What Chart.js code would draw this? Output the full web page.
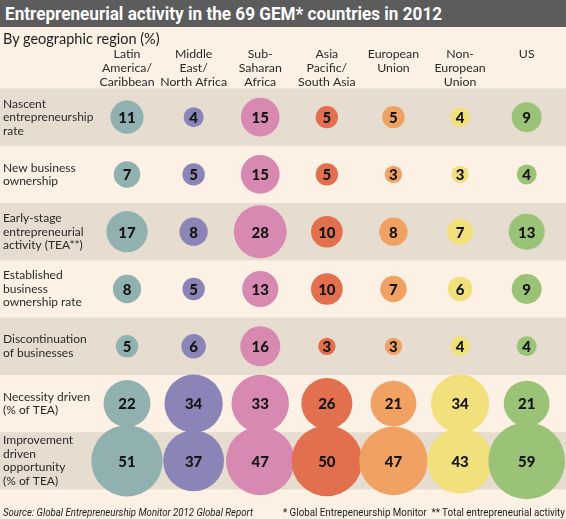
<!DOCTYPE html>
<html>
<head>
<meta charset="utf-8">
<script src="https://cdn.jsdelivr.net/npm/chart.js@4.4.1/dist/chart.umd.min.js"></script>
<style>
  html, body { margin: 0; padding: 0; background: #fcf1e4; }
  #wrap { position: relative; width: 566px; height: 519px; overflow: hidden; }
  #chartBox { position: absolute; left: 0; top: 0; width: 566px; height: 519px; }
  .titlebar {
    position: absolute; left: 0; top: 0; width: 566px; height: 27px;
    background: #5c5c5c;
  }
  .titlebar span {
    position: absolute; left: 5px; top: 0; color: #fff; white-space: nowrap;
    font: bold 18px Roboto, sans-serif; line-height: 27px;
    transform-origin: left center;
  }
  .subtitle {
    position: absolute; left: 3px; top: 30px;
    font: 14.5px Lato, sans-serif; color: #222; white-space: nowrap;
  }
  .foot {
    position: absolute; top: 506px; color: #222; white-space: nowrap;
    font: 11px Roboto, sans-serif; line-height: 14px;
  }
</style>
</head>
<body>
<div id="wrap">
  <div id="chartBox"><canvas id="gemChart"></canvas></div>
  <div class="titlebar"><span id="title">Entrepreneurial activity in the 69 GEM* countries in 2012</span></div>
  <div class="subtitle">By geographic region (%)</div>
  <div class="foot" id="source" style="left:3px;font-style:italic;transform-origin:left center">Source: Global Entrepreneurship Monitor 2012 Global Report</div>
  <div class="foot" id="notes" style="right:1px;transform-origin:right center">* Global Entrepeneurship Monitor&nbsp;&nbsp;** Total entrepreneurial activity</div>
</div>
<script>
  // Column categories (line breaks as in the header)
  const regions = [
    "Latin\nAmerica/\nCaribbean",
    "Middle\nEast/\nNorth Africa",
    "Sub-\nSaharan\nAfrica",
    "Asia\nPacific/\nSouth Asia",
    "European\nUnion",
    "Non-\nEuropean\nUnion",
    "US",
  ];

  // Row categories
  const measures = [
    "Nascent\nentrepreneurship\nrate",
    "New business\nownership",
    "Early-stage\nentrepreneurial\nactivity (TEA**)",
    "Established\nbusiness\nownership rate",
    "Discontinuation\nof businesses",
    "Necessity driven\n(% of TEA)",
    "Improvement\ndriven\nopportunity\n(% of TEA)",
  ];

  // Values per region, in row order (%)
  const latinAmerica  = [11, 7, 17, 8, 5, 22, 51];
  const middleEast    = [4, 5, 8, 5, 6, 34, 37];
  const subSaharan    = [15, 15, 28, 13, 16, 33, 47];
  const asiaPacific   = [5, 5, 10, 10, 3, 26, 50];
  const europeanUnion = [5, 3, 8, 7, 3, 21, 47];
  const nonEuropean   = [4, 3, 7, 6, 4, 34, 43];
  const unitedStates  = [9, 4, 13, 9, 4, 21, 59];

  const seriesByRegion = [latinAmerica, middleEast, subSaharan, asiaPacific, europeanUnion, nonEuropean, unitedStates];
  const regionColors = ["#91b1b0", "#8b85b7", "#d889b1", "#e2704f", "#f1a263", "#f1e07c", "#9bc377"];

  const BUBBLE_K = 5; // radius = k * sqrt(value), so area follows the value

  // squeeze the condensed-looking texts to the width they take in the print
  function fitWidth(id, w) {
    const el = document.getElementById(id);
    el.style.transform = "scaleX(" + (w / el.scrollWidth) + ")";
  }
  fitWidth("title", 437);
  fitWidth("source", 250);
  fitWidth("notes", 282);

  // shaded bands behind every other row (drawn before the axes)
  const rowBands = {
    id: "rowBands",
    beforeDraw(chart) {
      const y = chart.scales.y;
      const ctx = chart.ctx;
      const h = Math.abs(y.getPixelForValue(1) - y.getPixelForValue(0));
      ctx.save();
      ctx.fillStyle = "#e6dcd0";
      measures.forEach((m, j) => {
        if (j % 2 === 0) {
          const c = y.getPixelForValue(j);
          ctx.fillRect(0, c - h / 2, chart.width, h);
        }
      });
      ctx.restore();
    },
  };

  // value printed in the middle of each bubble
  const bubbleValues = {
    id: "bubbleValues",
    afterDatasetsDraw(chart) {
      const ctx = chart.ctx;
      ctx.save();
      ctx.font = "900 15px Lato, sans-serif";
      ctx.fillStyle = "#141414";
      ctx.textAlign = "center";
      ctx.textBaseline = "middle";
      chart.data.datasets.forEach((ds, i) => {
        chart.getDatasetMeta(i).data.forEach((el, k) => {
          ctx.fillText(String(ds.data[k].v), el.x, el.y + 1);
        });
      });
      ctx.restore();
    },
  };

  new Chart(document.getElementById("gemChart"), {
    type: "bubble",
    data: {
      datasets: seriesByRegion.map((vals, i) => ({
        label: regions[i].replace(/\n/g, " "),
        data: vals.map((v, j) => ({ x: regions[i], y: measures[j], v: v })),
        backgroundColor: regionColors[i],
        borderWidth: 0,
        radius: (c) => BUBBLE_K * Math.sqrt(c.raw.v),
        clip: false,
        order: regions.length - i,
      })),
    },
    options: {
      responsive: true,
      maintainAspectRatio: false,
      animation: false,
      events: [],
      layout: { autoPadding: false, padding: { left: 3, right: 6, top: 38.5, bottom: 29.5 } },
      plugins: {
        legend: { display: false },
        tooltip: { enabled: false },
      },
      scales: {
        x: {
          type: "category",
          position: "top",
          labels: regions,
          offset: true,
          grid: { display: false },
          border: { display: false },
          afterFit: (s) => { s.height = 50; s.paddingLeft = 0; s.paddingRight = 0; },
          ticks: {
            autoSkip: false,
            maxRotation: 0,
            minRotation: 0,
            crossAlign: "far",
            padding: -8.5,
            color: "#2a2a2a",
            font: { family: "Lato", size: 12.3, lineHeight: "14px" },
            callback(v) { return this.getLabelForValue(v).split("\n"); },
          },
        },
        y: {
          type: "category",
          labels: measures,
          offset: true,
          grid: { display: false },
          border: { display: false },
          afterFit: (s) => { s.width = 90.7; s.paddingTop = 0; s.paddingBottom = 0; },
          ticks: {
            autoSkip: false,
            crossAlign: "far",
            padding: 0,
            color: "#2a2a2a",
            font: { family: "Lato", size: 12, lineHeight: "13.5px" },
            callback(v) { return this.getLabelForValue(v).split("\n"); },
          },
        },
      },
    },
    plugins: [rowBands, bubbleValues],
  });
</script>
</body>
</html>
